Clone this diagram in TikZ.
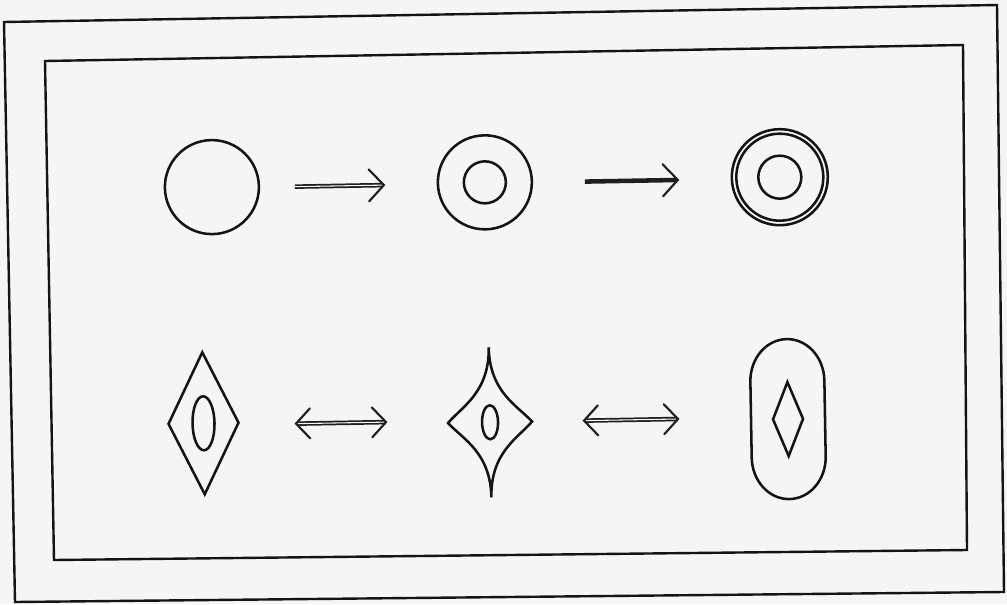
\documentclass[tikz,border=0pt]{standalone}
\usetikzlibrary{calc}
\begin{document}
\begin{tikzpicture}[x=0.75pt,y=-0.75pt,
  frame/.style={line width=1.8pt,black!92},
  outline/.style={line width=1.9pt,black!92},
  shaft/.style={line width=3.4pt,black!88},
  dshaft/.style={line width=1.3pt,double=black!4,double distance=0.8pt,black!88},
  chev/.style={line width=1.6pt,black!88,line cap=round,line join=miter}]
\fill[black!4] (0,0) rectangle (1007,604);
\useasboundingbox (0,0) rectangle (1007,604);
% frames (scanned, slightly skewed)
\draw[frame] (4,22) -- (997,5) -- (1004,592) -- (15,602) -- cycle;
\draw[frame] (45,61) -- (963,45) -- (967,550) -- (54,560) -- cycle;
\begin{scope}[rotate around={1:(505,305)}]
  % centres
  \coordinate (c1) at (214,182);
  \coordinate (c2) at (487,182);
  \coordinate (c3) at (782,182);
  \coordinate (d1) at (201.5,418);
  \coordinate (d2) at (488,422);
  \coordinate (d3) at (786,424);
  % arrow coordinates
  \coordinate (a1s) at (297,183);   \coordinate (a1e) at (386,183);
  \coordinate (a2s) at (587,183);   \coordinate (a2e) at (680,183);
  \coordinate (b1s) at (294,420);   \coordinate (b1e) at (384,420);
  \coordinate (b2s) at (582,422);   \coordinate (b2e) at (676,422);
  % top row
  \draw[outline] (c1) circle [radius=47];
  \draw[outline] (c2) circle [radius=47];
  \draw[outline] (c2) circle [radius=21];
  \draw[outline] (c3) circle [radius=48];
  \draw[outline] (c3) circle [radius=43.5];
  \draw[outline] (c3) circle [radius=21.5];
  % top arrows
  \draw[dshaft] (a1s) -- ($(a1e)+(-1,0)$);
  \draw[chev] (a1e) ++(-15,-16) -- (a1e) -- ++(-15,16);
  \draw[shaft] (a2s) -- ($(a2e)+(-1.5,0)$);
  \draw[chev] (a2e) ++(-15,-16) -- (a2e) -- ++(-15,16);
  % bottom row
  \draw[outline] (d1) ++(0,-71) -- ++(35,71) -- ++(-35,71) -- ++(-35,-71) -- cycle;
  \draw[outline] (d1) ellipse [x radius=11, y radius=27];
  \draw[outline] (d2) ++(0,-75)
      .. controls ++(0,45) and ++(-14,-16) .. ++(42,75)
      .. controls ++(-14,16) and ++(0,-45) .. ++(-42,75)
      .. controls ++(0,-45) and ++(14,16) .. ++(-42,-75)
      .. controls ++(14,-16) and ++(0,45) .. ++(42,-75) -- cycle;
  \draw[outline] (d2) ellipse [x radius=8, y radius=17];
  \draw[outline] (d3) ++(-37,-38) -- ++(0,76)
      arc [start angle=180, end angle=0, x radius=37, y radius=42]
      -- ++(0,-76)
      arc [start angle=0, end angle=-180, x radius=37, y radius=42] -- cycle;
  \draw[outline] (d3) ++(0,-37) -- ++(15,37) -- ++(-15,37) -- ++(-15,-37) -- cycle;
  % bottom double arrows
  \draw[dshaft] ($(b1s)+(1,0)$) -- ($(b1e)+(-1,0)$);
  \draw[chev] (b1e) ++(-14,-15) -- (b1e) -- ++(-14,15);
  \draw[chev] (b1s) ++(14,-15) -- (b1s) -- ++(14,15);
  \draw[dshaft] ($(b2s)+(1,0)$) -- ($(b2e)+(-1,0)$);
  \draw[chev] (b2e) ++(-14,-15) -- (b2e) -- ++(-14,15);
  \draw[chev] (b2s) ++(14,-15) -- (b2s) -- ++(14,15);
\end{scope}
\end{tikzpicture}
\end{document}
